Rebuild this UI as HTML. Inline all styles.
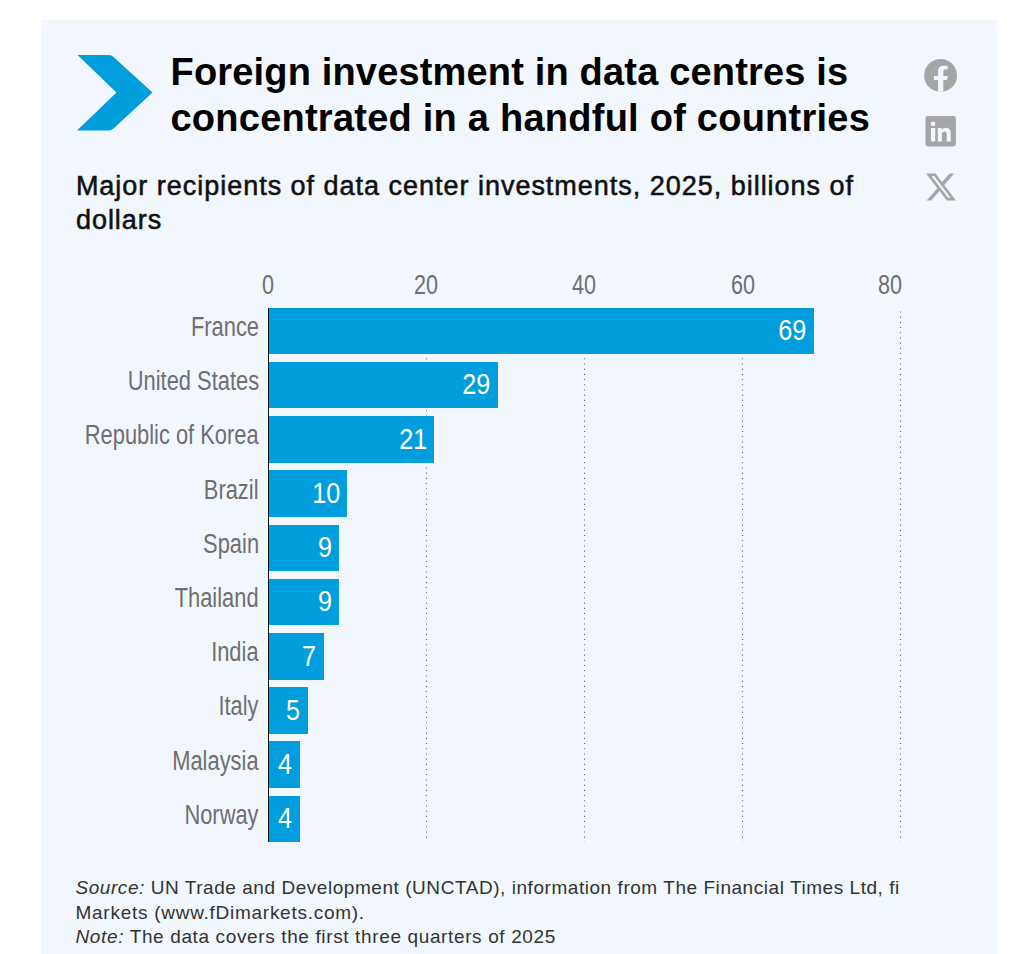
<!DOCTYPE html>
<html><head><meta charset="utf-8">
<style>
html,body{margin:0;padding:0;background:#fff;}
body{width:1024px;height:954px;position:relative;overflow:hidden;font-family:"Liberation Sans",sans-serif;}
#panel{position:absolute;left:40.5px;top:20px;width:956px;height:934px;background:#f2f7fd;}
.abs{position:absolute;}
#title{left:170.5px;top:49px;font-size:38px;line-height:46px;font-weight:bold;color:#000;white-space:nowrap;letter-spacing:0.17px;}
#sub{left:75.9px;top:169.3px;font-size:27px;line-height:34px;color:#111;white-space:nowrap;letter-spacing:0.98px;-webkit-text-stroke:0.55px #111;}
#foot{left:75.5px;top:876px;font-size:19px;line-height:24.5px;color:#333;white-space:nowrap;letter-spacing:0.55px;}
#foot i{font-style:italic;}
.bar{position:absolute;left:268px;height:46.5px;background:#009edc;}
.val{position:absolute;height:46px;line-height:46px;font-size:29px;color:#fff;white-space:nowrap;transform-origin:right center;transform:scaleX(0.87);text-align:right;}
.lab{position:absolute;right:765px;height:46px;line-height:46px;font-size:27px;color:#6f6f6f;white-space:nowrap;transform-origin:right center;transform:scaleX(0.81);text-align:right;}
.tick{position:absolute;top:271.5px;font-size:27px;line-height:26px;color:#6f6f6f;white-space:nowrap;transform:translateX(-50%) scaleX(0.8);}
#axis{position:absolute;left:268px;top:307.5px;width:1px;height:534.5px;background:#111;}
</style></head>
<body>
<div id="panel"></div>
<svg class="abs" style="left:0;top:0" width="1024" height="954">
  <path d="M77.5,55 L109,55 Q111.5,55 113.5,57 L152.5,92.5 L113.5,128.5 Q111.5,130.5 109,130.5 L77,130.5 L116.5,92.5 Z" fill="#009edc"/>
  <g stroke="#6a6a6a" stroke-width="1.1" stroke-dasharray="1.1 4.1">
    <line x1="426.5" y1="311.4" x2="426.5" y2="842"/>
    <line x1="584.5" y1="311.4" x2="584.5" y2="842"/>
    <line x1="742.5" y1="311.4" x2="742.5" y2="842"/>
    <line x1="900.5" y1="311.4" x2="900.5" y2="842"/>
  </g>
</svg>
<div id="title" class="abs">Foreign investment in data centres is<br><span style="letter-spacing:0.24px">concentrated in a handful of countries</span></div>
<div id="sub" class="abs">Major recipients of data center investments, 2025, billions of<br>dollars</div>

<!-- social icons -->
<svg class="abs" style="left:920px;top:55px" width="42" height="42" viewBox="0 0 42 42">
  <circle cx="20.6" cy="20.45" r="16.4" fill="#a5a5a5"/>
  <path fill="#f2f7fd" d="M18,36.64 V24.9 H13.9 V20.9 H18 V16.8 C18,12.9 20,10.8 23.8,10.8 H27.7 V14.4 H25.1 C23.9,14.4 23.3,15 23.3,16.2 V20.9 H27.7 L27.1,24.9 H23.3 V36.62 A16.4,16.4 0 0,1 18,36.64 Z"/>
</svg>
<svg class="abs" style="left:920px;top:111px" width="42" height="42" viewBox="0 0 42 42">
  <rect x="5.5" y="5.1" width="30.4" height="30.3" rx="2.3" fill="#a5a5a5"/>
  <circle cx="13.1" cy="12.8" r="2.4" fill="#f2f7fd"/>
  <rect x="11" y="17" width="4.2" height="13.4" fill="#f2f7fd"/>
  <path fill="#f2f7fd" d="M17.8,17 H21.9 V18.9 C22.7,17.6 24.2,16.8 26.1,16.8 C29.3,16.8 30.8,18.7 30.8,22.2 V30.4 H26.7 V23 C26.7,21.3 26,20.4 24.6,20.4 C23,20.4 21.9,21.4 21.9,23.2 V30.4 H17.8 Z"/>
</svg>
<svg class="abs" style="left:926px;top:173.4px" width="30" height="28" viewBox="0 1 24 22"><path fill="#a5a5a5" d="M18.901 1.153h3.68l-8.04 9.19L24 22.846h-7.406l-5.8-7.584-6.638 7.584H.474l8.6-9.83L0 1.154h7.594l5.243 6.932ZM17.61 20.644h2.039L6.486 3.240H4.298Z"/></svg>

<!-- ticks -->
<div class="tick" style="left:268.4px">0</div>
<div class="tick" style="left:425.8px">20</div>
<div class="tick" style="left:584.2px">40</div>
<div class="tick" style="left:742.6px">60</div>
<div class="tick" style="left:889.6px">80</div>

<!-- bars -->
<div class="bar" style="top:307.70px;width:545.99px"></div>
<div class="bar" style="top:361.92px;width:229.59px"></div>
<div class="bar" style="top:416.14px;width:166.31px"></div>
<div class="bar" style="top:470.36px;width:79.30px"></div>
<div class="bar" style="top:524.58px;width:71.39px"></div>
<div class="bar" style="top:578.80px;width:71.39px"></div>
<div class="bar" style="top:633.02px;width:55.57px"></div>
<div class="bar" style="top:687.24px;width:39.75px"></div>
<div class="bar" style="top:741.46px;width:31.84px"></div>
<div class="bar" style="top:795.68px;width:31.84px"></div>
<div id="axis"></div>

<!-- values -->
<div class="val" style="top:307.20px;right:217.4px">69</div>
<div class="val" style="top:361.42px;right:533.8px">29</div>
<div class="val" style="top:415.64px;right:597.1px">21</div>
<div class="val" style="top:469.86px;right:684.1px">10</div>
<div class="val" style="top:524.08px;right:692.0px">9</div>
<div class="val" style="top:578.30px;right:692.0px">9</div>
<div class="val" style="top:632.52px;right:707.8px">7</div>
<div class="val" style="top:686.74px;right:723.6px">5</div>
<div class="val" style="top:740.96px;right:731.6px">4</div>
<div class="val" style="top:795.18px;right:731.6px">4</div>

<!-- labels -->
<div class="lab" style="top:303.90px">France</div>
<div class="lab" style="top:358.12px">United States</div>
<div class="lab" style="top:412.34px">Republic of Korea</div>
<div class="lab" style="top:466.56px">Brazil</div>
<div class="lab" style="top:520.78px">Spain</div>
<div class="lab" style="top:575.00px">Thailand</div>
<div class="lab" style="top:629.22px">India</div>
<div class="lab" style="top:683.44px">Italy</div>
<div class="lab" style="top:737.66px">Malaysia</div>
<div class="lab" style="top:791.88px">Norway</div>

<div id="foot" class="abs"><i>Source:</i> UN Trade and Development (UNCTAD), information from The Financial Times Ltd, fi<br><span style="letter-spacing:0.73px">Markets (www.fDimarkets.com).</span><br><span style="letter-spacing:0.63px"><i>Note:</i> The data covers the first three quarters of 2025</span></div>
</body></html>
